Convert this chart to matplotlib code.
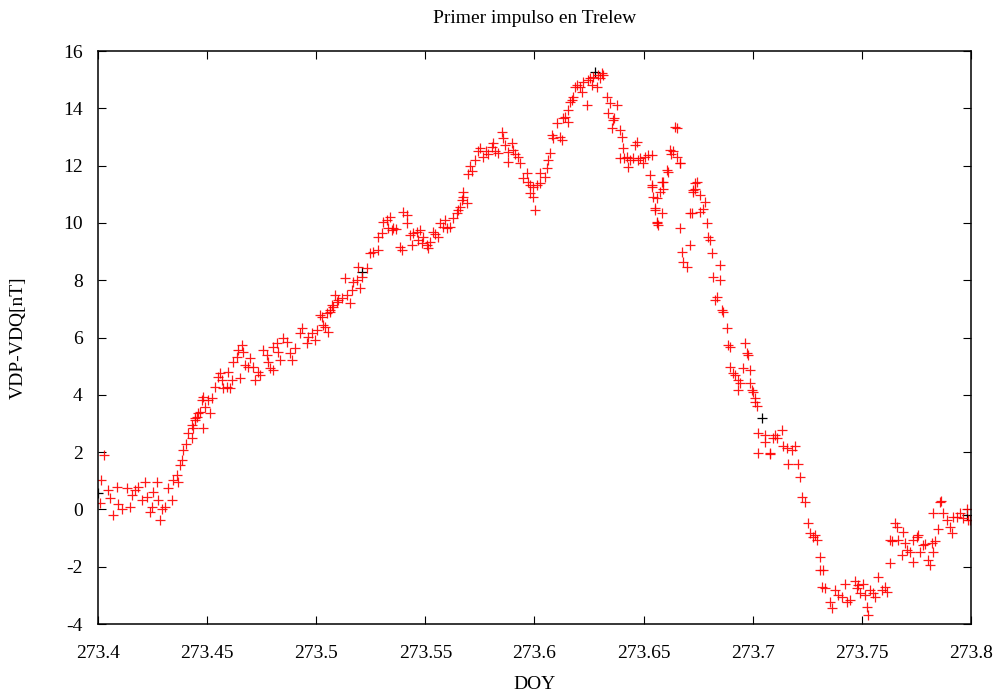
import matplotlib.pyplot as plt

plt.rcParams['font.family'] = ['Liberation Serif', 'DejaVu Serif']
plt.rcParams['axes.unicode_minus'] = False

# VDP-VDQ difference at Trelew (nT) vs day of year
doy = [
    273.4009, 273.4012, 273.4027, 273.4046, 273.4055, 273.4069, 273.4086, 273.4092,
    273.4109, 273.4132, 273.4147, 273.4154, 273.4170, 273.4183, 273.4200, 273.4215,
    273.4223, 273.4238, 273.4246, 273.4252, 273.4269, 273.4275, 273.4284, 273.4292,
    273.4307, 273.4321, 273.4338, 273.4344, 273.4361, 273.4367, 273.4376, 273.4384,
    273.4389, 273.4403, 273.4412, 273.4429, 273.4429, 273.4435, 273.4444, 273.4444,
    273.4452, 273.4458, 273.4467, 273.4475, 273.4481, 273.4481, 273.4490, 273.4504,
    273.4513, 273.4521, 273.4536, 273.4550, 273.4559, 273.4567, 273.4573, 273.4590,
    273.4596, 273.4605, 273.4613, 273.4619, 273.4636, 273.4641, 273.4651, 273.4658,
    273.4664, 273.4674, 273.4687, 273.4696, 273.4710, 273.4719, 273.4733, 273.4742,
    273.4756, 273.4773, 273.4779, 273.4788, 273.4802, 273.4802, 273.4819, 273.4825,
    273.4834, 273.4848, 273.4865, 273.4880, 273.4888, 273.4903, 273.4926, 273.4933,
    273.4956, 273.4962, 273.4979, 273.4994, 273.5002, 273.5017, 273.5025, 273.5031,
    273.5040, 273.5048, 273.5054, 273.5063, 273.5063, 273.5071, 273.5077, 273.5086,
    273.5094, 273.5100, 273.5117, 273.5132, 273.5140, 273.5155, 273.5162, 273.5168,
    273.5185, 273.5191, 273.5200, 273.5208, 273.5231, 273.5246, 273.5260, 273.5283,
    273.5283, 273.5300, 273.5306, 273.5323, 273.5329, 273.5338, 273.5346, 273.5352,
    273.5365, 273.5384, 273.5392, 273.5397, 273.5414, 273.5414, 273.5430, 273.5437,
    273.5443, 273.5460, 273.5466, 273.5475, 273.5483, 273.5489, 273.5506, 273.5512,
    273.5521, 273.5535, 273.5544, 273.5558, 273.5567, 273.5581, 273.5590, 273.5598,
    273.5613, 273.5627, 273.5644, 273.5649, 273.5659, 273.5666, 273.5672, 273.5672,
    273.5689, 273.5695, 273.5704, 273.5714, 273.5727, 273.5741, 273.5750, 273.5764,
    273.5778, 273.5787, 273.5804, 273.5810, 273.5819, 273.5833, 273.5850, 273.5856,
    273.5865, 273.5879, 273.5879, 273.5896, 273.5901, 273.5911, 273.5924, 273.5934,
    273.5947, 273.5964, 273.5970, 273.5979, 273.5979, 273.5993, 273.5993, 273.6002,
    273.6010, 273.6025, 273.6025, 273.6048, 273.6056, 273.6062, 273.6071, 273.6079,
    273.6085, 273.6102, 273.6117, 273.6126, 273.6131, 273.6140, 273.6153, 273.6153,
    273.6163, 273.6170, 273.6176, 273.6186, 273.6193, 273.6208, 273.6216, 273.6222,
    273.6239, 273.6245, 273.6254, 273.6262, 273.6268, 273.6285, 273.6291, 273.6300,
    273.6308, 273.6314, 273.6331, 273.6337, 273.6346, 273.6354, 273.6360, 273.6364,
    273.6377, 273.6392, 273.6400, 273.6405, 273.6392, 273.6410, 273.6422, 273.6428,
    273.6438, 273.6451, 273.6461, 273.6468, 273.6474, 273.6483, 273.6497, 273.6506,
    273.6520, 273.6529, 273.6537, 273.6537, 273.6537, 273.6543, 273.6552, 273.6552,
    273.6560, 273.6560, 273.6560, 273.6566, 273.6575, 273.6583, 273.6583, 273.6589,
    273.6589, 273.6606, 273.6612, 273.6621, 273.6625, 273.6635, 273.6644, 273.6652,
    273.6652, 273.6667, 273.6667, 273.6667, 273.6674, 273.6680, 273.6697, 273.6712,
    273.6712, 273.6720, 273.6726, 273.6726, 273.6735, 273.6735, 273.6743, 273.6758,
    273.6758, 273.6772, 273.6781, 273.6789, 273.6795, 273.6804, 273.6812, 273.6818,
    273.6827, 273.6835, 273.6850, 273.6850, 273.6858, 273.6864, 273.6881, 273.6887,
    273.6896, 273.6896, 273.6910, 273.6919, 273.6932, 273.6932, 273.6942, 273.6955,
    273.6964, 273.6972, 273.6978, 273.6987, 273.6987, 273.6995, 273.7001, 273.7010,
    273.7010, 273.7018, 273.7024, 273.7024, 273.7056, 273.7056, 273.7079, 273.7079,
    273.7093, 273.7102, 273.7110, 273.7133, 273.7139, 273.7156, 273.7162, 273.7178,
    273.7194, 273.7207, 273.7216, 273.7224, 273.7239, 273.7253, 273.7262, 273.7276,
    273.7285, 273.7293, 273.7308, 273.7308, 273.7322, 273.7316, 273.7331, 273.7354,
    273.7362, 273.7377, 273.7391, 273.7408, 273.7423, 273.7430, 273.7446, 273.7468,
    273.7476, 273.7482, 273.7491, 273.7505, 273.7514, 273.7522, 273.7528, 273.7537,
    273.7551, 273.7560, 273.7574, 273.7591, 273.7606, 273.7614, 273.7629, 273.7629,
    273.7637, 273.7652, 273.7660, 273.7666, 273.7682, 273.7688, 273.7698, 273.7705,
    273.7720, 273.7734, 273.7734, 273.7751, 273.7757, 273.7766, 273.7780, 273.7789,
    273.7803, 273.7812, 273.7820, 273.7826, 273.7835, 273.7826, 273.7849, 273.7858,
    273.7863, 273.7872, 273.7889, 273.7904, 273.7912, 273.7918, 273.7934, 273.7950,
    273.7963, 273.7980, 273.7986, 273.7997,
]
vdp_vdq = [
    0.22, 1.03, 1.90, 0.68, 0.40, -0.20, 0.80, 0.20,
    0.00, 0.75, 0.10, 0.50, 0.68, 0.80, 0.33, 0.96,
    0.44, -0.10, 0.10, 0.60, 0.96, 0.33, -0.37, 0.00,
    0.10, 0.75, 0.33, 1.03, 1.20, 0.96, 1.55, 1.72,
    2.07, 2.30, 2.67, 2.50, 2.95, 2.84, 3.12, 3.20,
    3.23, 3.36, 3.40, 3.82, 3.92, 2.84, 3.57, 3.82,
    3.36, 3.89, 4.27, 4.62, 4.76, 4.52, 4.24, 4.27,
    4.80, 4.24, 4.52, 5.15, 5.32, 5.57, 4.59, 5.74,
    5.50, 5.04, 4.97, 5.29, 4.97, 4.52, 4.80, 4.69,
    5.57, 5.39, 5.15, 4.94, 4.87, 5.67, 5.80, 5.50,
    5.22, 5.98, 5.84, 5.46, 5.22, 5.64, 6.15, 6.33,
    5.80, 6.01, 6.15, 5.91, 6.26, 6.79, 6.70, 6.44,
    6.37, 6.86, 6.19, 6.96, 6.89, 7.13, 7.06, 7.48,
    7.24, 7.30, 7.38, 8.08, 7.48, 7.20, 7.66, 7.94,
    8.00, 8.46, 7.73, 8.11, 8.43, 8.95, 8.98, 9.05,
    9.50, 9.64, 10.03, 10.10, 9.82, 10.20, 9.75, 9.82,
    9.80, 9.16, 9.05, 10.38, 10.28, 10.00, 9.58, 9.23,
    9.64, 9.68, 9.40, 9.75, 9.30, 9.50, 9.23, 9.12,
    9.33, 9.68, 9.60, 9.50, 10.00, 9.86, 10.10, 9.82,
    9.86, 10.17, 10.35, 10.45, 10.55, 10.80, 10.90, 11.08,
    10.70, 11.70, 12.00, 11.80, 12.20, 12.50, 12.60, 12.30,
    12.50, 12.40, 12.65, 12.80, 12.50, 12.44, 13.17, 12.96,
    12.72, 12.47, 12.13, 12.80, 12.54, 12.40, 12.30, 12.09,
    11.57, 11.74, 11.43, 11.32, 11.04, 10.90, 11.25, 10.45,
    11.32, 11.39, 11.74, 11.60, 11.92, 12.20, 12.44, 13.07,
    12.96, 13.49, 13.00, 12.90, 13.66, 13.70, 13.52, 13.94,
    14.22, 14.29, 14.39, 14.74, 14.81, 14.74, 14.57, 14.92,
    14.12, 15.00, 15.06, 14.81, 15.10, 14.74, 15.16, 15.06,
    15.23, 15.16, 14.39, 13.84, 14.18, 13.31, 13.59, 13.65,
    14.12, 13.24, 13.00, 12.61, 12.27, 12.25, 12.30, 11.95,
    12.20, 12.27, 12.72, 12.82, 12.20, 12.25, 12.09, 12.30,
    12.37, 11.67, 11.25, 12.37, 11.32, 10.90, 10.45, 10.52,
    10.00, 10.87, 10.04, 9.93, 11.08, 11.43, 10.35, 11.43,
    11.20, 11.85, 11.78, 12.55, 12.40, 12.50, 13.35, 13.30,
    12.30, 12.09, 12.10, 9.82, 8.98, 8.64, 8.46, 9.23,
    10.35, 10.35, 11.15, 11.08, 11.39, 11.20, 11.43, 10.97,
    10.38, 10.50, 10.73, 10.00, 9.50, 9.40, 8.95, 8.11,
    7.30, 7.41, 8.53, 8.00, 6.96, 6.90, 6.33, 5.74,
    5.67, 4.97, 4.76, 4.69, 4.52, 4.17, 4.41, 4.94,
    5.80, 5.46, 5.40, 4.87, 4.41, 4.17, 4.10, 3.90,
    3.75, 3.60, 2.67, 1.97, 2.60, 2.35, 1.97, 1.95,
    2.50, 2.60, 2.50, 2.77, 2.20, 2.15, 1.60, 2.07,
    2.20, 1.60, 1.13, 0.44, 0.26, -0.47, -0.82, -0.96,
    -0.90, -1.07, -1.66, -2.10, -2.10, -2.70, -2.75, -3.23,
    -3.44, -2.80, -3.00, -3.05, -2.60, -3.23, -3.16, -2.50,
    -2.75, -2.65, -2.92, -2.60, -3.00, -3.40, -3.70, -2.80,
    -2.92, -3.05, -2.37, -2.80, -2.70, -2.88, -1.87, -1.07,
    -1.10, -0.47, -0.60, -1.07, -1.60, -0.80, -1.17, -1.40,
    -1.50, -1.07, -1.83, -0.96, -0.90, -1.48, -1.25, -1.20,
    -1.77, -1.94, -1.17, -1.48, -1.10, -0.13, -0.70, 0.26,
    0.30, -0.13, -0.37, -0.60, -0.82, -0.27, -0.27, -0.13,
    -0.30, 0.00, -0.37, -0.37,
]

# second series, mostly hidden under the red one
doy_b = [273.4000, 273.5210, 273.6277, 273.7041, 273.7980]
vdp_vdq_b = [0.57, 8.30, 15.27, 3.20, -0.20]

fig = plt.figure(figsize=(10.04, 6.96), dpi=100)
ax = fig.add_axes([0.0976, 0.1034, 0.8695, 0.8233])

ax.plot(doy_b, vdp_vdq_b, linestyle='none', marker='+', color='black',
        markersize=6.5, markeredgewidth=0.9)
ax.plot(doy, vdp_vdq, linestyle='none', marker='+', color='red',
        markersize=6.5, markeredgewidth=0.9, alpha=0.9)

ax.set_xlim(273.4, 273.8)
ax.set_ylim(-4, 16)
ax.set_xticks([273.4, 273.45, 273.5, 273.55, 273.6, 273.65, 273.7, 273.75, 273.8])
ax.set_xticklabels(['273.4', '273.45', '273.5', '273.55', '273.6', '273.65',
                    '273.7', '273.75', '273.8'])
ax.set_yticks(range(-4, 17, 2))

ax.tick_params(direction='in', length=6, width=0.8, top=True, right=True,
               labelsize=14)
ax.tick_params(axis='x', pad=15)
ax.tick_params(axis='y', pad=11)
for s in ax.spines.values():
    s.set_linewidth(1.1)

ax.set_title('Primer impulso en Trelew', fontsize=14, pad=20)
ax.set_xlabel('DOY', fontsize=14, labelpad=10)
ax.set_ylabel('VDP-VDQ[nT]', fontsize=14, labelpad=26)

fig.savefig('out.png', dpi=100)
